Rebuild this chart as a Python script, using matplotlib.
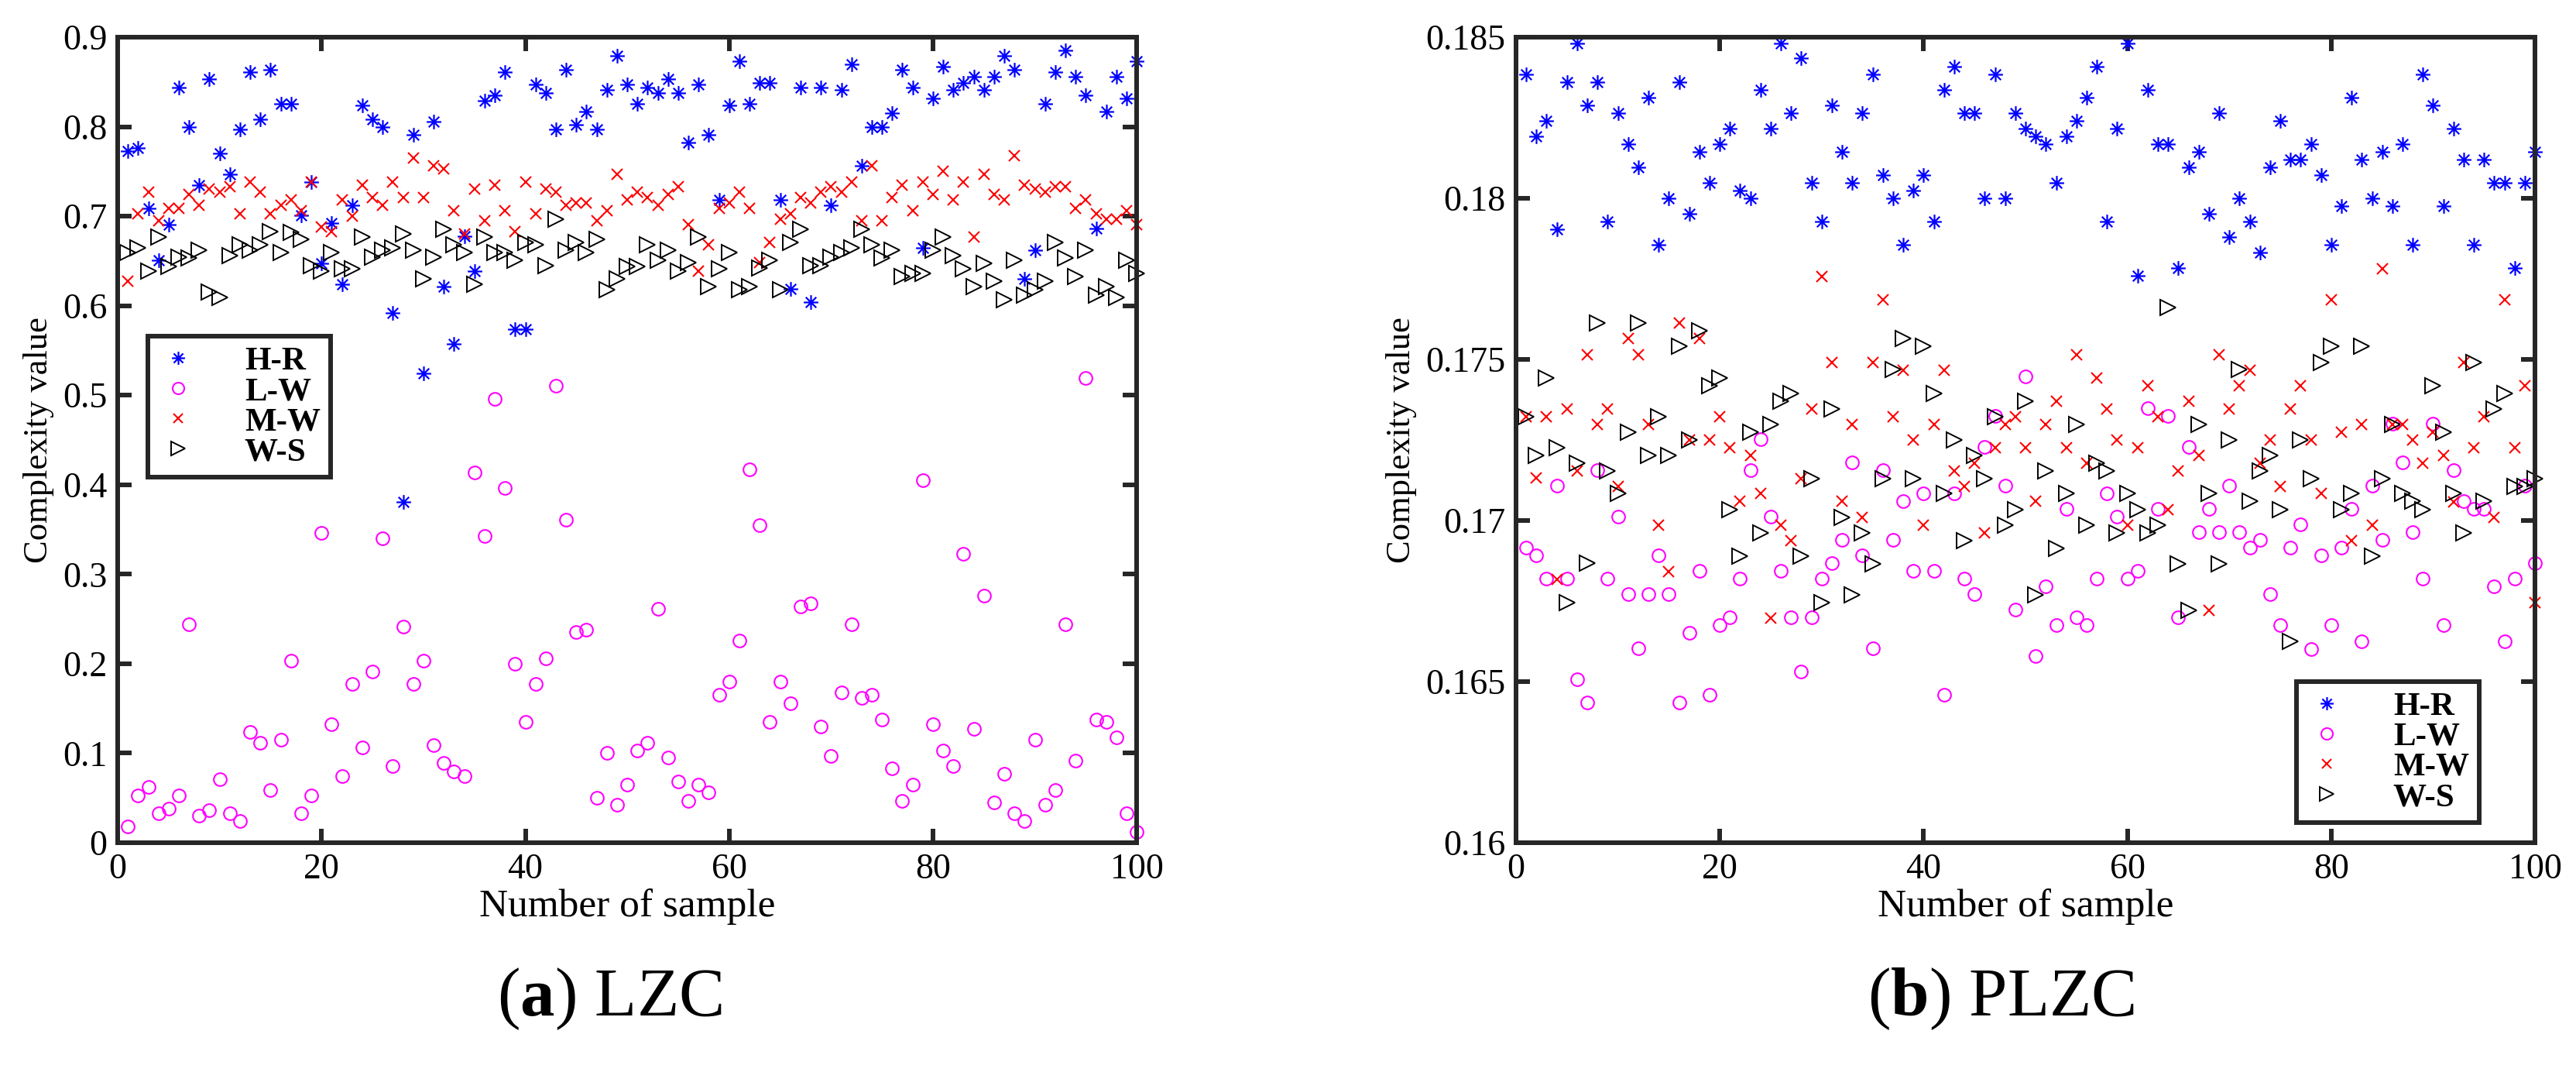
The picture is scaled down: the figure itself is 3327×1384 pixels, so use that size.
import numpy as np
import matplotlib
matplotlib.use("Agg")
from matplotlib import pyplot as plt
from matplotlib.path import Path

plt.rcParams['font.family'] = ['Liberation Serif', 'DejaVu Serif']
plt.rcParams['mathtext.fontset'] = 'custom'
plt.rcParams['mathtext.rm'] = 'Liberation Serif'
plt.rcParams['mathtext.bf'] = 'Liberation Serif:bold'

samples = np.arange(1, 101)
series_names = ['H-R', 'L-W', 'M-W', 'W-S']

# (a) LZC
lzc_hr = [0.773, 0.776, 0.709, 0.651, 0.691, 0.844, 0.800, 0.735, 0.853, 0.770,
          0.747, 0.797, 0.861, 0.808, 0.864, 0.826, 0.826, 0.701, 0.738, 0.647,
          0.692, 0.624, 0.712, 0.824, 0.808, 0.800, 0.592, 0.381, 0.791, 0.524,
          0.806, 0.621, 0.557, 0.678, 0.639, 0.829, 0.835, 0.861, 0.574, 0.574,
          0.847, 0.838, 0.797, 0.864, 0.802, 0.817, 0.797, 0.841, 0.879, 0.847,
          0.826, 0.844, 0.838, 0.853, 0.838, 0.782, 0.847, 0.791, 0.718, 0.824,
          0.873, 0.826, 0.849, 0.849, 0.718, 0.619, 0.844, 0.604, 0.844, 0.712,
          0.841, 0.870, 0.756, 0.800, 0.800, 0.815, 0.864, 0.844, 0.665, 0.832,
          0.867, 0.841, 0.849, 0.856, 0.841, 0.856, 0.879, 0.864, 0.630, 0.662,
          0.826, 0.861, 0.885, 0.856, 0.835, 0.686, 0.817, 0.856, 0.832, 0.873]
lzc_lw = [0.018, 0.053, 0.062, 0.033, 0.038, 0.053, 0.244, 0.030, 0.036, 0.071,
          0.033, 0.024, 0.124, 0.112, 0.059, 0.115, 0.203, 0.033, 0.053, 0.346,
          0.132, 0.074, 0.177, 0.106, 0.191, 0.340, 0.086, 0.241, 0.177, 0.203,
          0.109, 0.089, 0.080, 0.074, 0.414, 0.343, 0.496, 0.396, 0.200, 0.135,
          0.177, 0.206, 0.511, 0.361, 0.235, 0.238, 0.050, 0.100, 0.042, 0.065,
          0.103, 0.112, 0.261, 0.095, 0.068, 0.047, 0.065, 0.056, 0.165, 0.180,
          0.226, 0.417, 0.355, 0.135, 0.180, 0.156, 0.264, 0.267, 0.130, 0.097,
          0.168, 0.244, 0.162, 0.165, 0.138, 0.083, 0.047, 0.065, 0.405, 0.132,
          0.103, 0.086, 0.323, 0.127, 0.276, 0.045, 0.077, 0.033, 0.024, 0.115,
          0.042, 0.059, 0.244, 0.092, 0.519, 0.138, 0.135, 0.118, 0.033, 0.012]
lzc_mw = [0.627, 0.703, 0.727, 0.695, 0.709, 0.709, 0.724, 0.712, 0.730, 0.727,
          0.733, 0.703, 0.738, 0.727, 0.703, 0.712, 0.718, 0.706, 0.738, 0.688,
          0.683, 0.718, 0.700, 0.735, 0.721, 0.712, 0.738, 0.721, 0.765, 0.721,
          0.756, 0.753, 0.706, 0.680, 0.730, 0.695, 0.735, 0.706, 0.683, 0.738,
          0.703, 0.730, 0.727, 0.712, 0.715, 0.715, 0.695, 0.706, 0.747, 0.718,
          0.727, 0.721, 0.712, 0.724, 0.733, 0.691, 0.639, 0.668, 0.709, 0.715,
          0.727, 0.709, 0.648, 0.671, 0.697, 0.703, 0.721, 0.715, 0.727, 0.733,
          0.727, 0.738, 0.695, 0.756, 0.695, 0.721, 0.735, 0.706, 0.738, 0.724,
          0.750, 0.718, 0.738, 0.677, 0.747, 0.724, 0.718, 0.768, 0.735, 0.730,
          0.727, 0.733, 0.733, 0.709, 0.718, 0.703, 0.697, 0.697, 0.706, 0.691]
lzc_ws = [0.659, 0.665, 0.639, 0.677, 0.644, 0.654, 0.653, 0.662, 0.615, 0.609,
          0.656, 0.668, 0.662, 0.668, 0.683, 0.659, 0.682, 0.674, 0.645, 0.639,
          0.659, 0.641, 0.641, 0.677, 0.654, 0.662, 0.665, 0.680, 0.662, 0.630,
          0.654, 0.685, 0.668, 0.659, 0.624, 0.677, 0.659, 0.659, 0.651, 0.671,
          0.668, 0.645, 0.697, 0.662, 0.671, 0.659, 0.674, 0.618, 0.630, 0.644,
          0.644, 0.668, 0.651, 0.662, 0.639, 0.648, 0.677, 0.621, 0.641, 0.659,
          0.618, 0.621, 0.642, 0.651, 0.618, 0.671, 0.685, 0.645, 0.645, 0.654,
          0.659, 0.665, 0.685, 0.668, 0.653, 0.662, 0.633, 0.636, 0.636, 0.662,
          0.677, 0.656, 0.641, 0.621, 0.647, 0.627, 0.607, 0.651, 0.612, 0.618,
          0.627, 0.671, 0.653, 0.633, 0.662, 0.612, 0.621, 0.609, 0.651, 0.636]

# (b) PLZC
plzc_hr = [0.18385, 0.18193, 0.18241, 0.17903, 0.18361, 0.18482, 0.18289, 0.18361, 0.17927, 0.18265,
           0.18169, 0.18097, 0.18313, 0.17855, 0.18000, 0.18361, 0.17951, 0.18145, 0.18049, 0.18169,
           0.18217, 0.18025, 0.18000, 0.18337, 0.18217, 0.18482, 0.18265, 0.18434, 0.18049, 0.17927,
           0.18289, 0.18145, 0.18049, 0.18265, 0.18385, 0.18073, 0.18000, 0.17855, 0.18025, 0.18073,
           0.17927, 0.18337, 0.18409, 0.18265, 0.18265, 0.18000, 0.18385, 0.18000, 0.18265, 0.18217,
           0.18193, 0.18169, 0.18049, 0.18193, 0.18241, 0.18313, 0.18409, 0.17927, 0.18217, 0.18482,
           0.17759, 0.18337, 0.18169, 0.18169, 0.17783, 0.18097, 0.18145, 0.17951, 0.18265, 0.17879,
           0.18000, 0.17927, 0.17831, 0.18097, 0.18241, 0.18121, 0.18121, 0.18169, 0.18073, 0.17855,
           0.17977, 0.18313, 0.18121, 0.18000, 0.18145, 0.17977, 0.18169, 0.17855, 0.18385, 0.18289,
           0.17977, 0.18217, 0.18121, 0.17855, 0.18121, 0.18049, 0.18049, 0.17783, 0.18049, 0.18145]
plzc_lw = [0.16916, 0.16892, 0.16820, 0.17108, 0.16820, 0.16507, 0.16434, 0.17156, 0.16820, 0.17011,
           0.16771, 0.16603, 0.16771, 0.16892, 0.16771, 0.16434, 0.16652, 0.16844, 0.16459, 0.16676,
           0.16700, 0.16820, 0.17156, 0.17253, 0.17011, 0.16844, 0.16700, 0.16531, 0.16700, 0.16820,
           0.16868, 0.16940, 0.17180, 0.16892, 0.16603, 0.17156, 0.16940, 0.17060, 0.16844, 0.17084,
           0.16844, 0.16459, 0.17084, 0.16820, 0.16771, 0.17229, 0.17325, 0.17108, 0.16723, 0.17446,
           0.16579, 0.16795, 0.16675, 0.17036, 0.16700, 0.16675, 0.16820, 0.17084, 0.17011, 0.16820,
           0.16844, 0.17349, 0.17036, 0.17325, 0.16700, 0.17229, 0.16964, 0.17036, 0.16964, 0.17108,
           0.16964, 0.16916, 0.16940, 0.16771, 0.16675, 0.16916, 0.16989, 0.16602, 0.16892, 0.16675,
           0.16916, 0.17036, 0.16626, 0.17108, 0.16940, 0.17301, 0.17180, 0.16964, 0.16820, 0.17301,
           0.16675, 0.17156, 0.17060, 0.17036, 0.17036, 0.16795, 0.16626, 0.16820, 0.17108, 0.16868]
plzc_mw = [0.17323, 0.17131, 0.17323, 0.16818, 0.17347, 0.17154, 0.17515, 0.17299, 0.17347, 0.17106,
           0.17564, 0.17515, 0.17299, 0.16986, 0.16841, 0.17613, 0.17251, 0.17564, 0.17251, 0.17323,
           0.17226, 0.17059, 0.17202, 0.17083, 0.16698, 0.16986, 0.16938, 0.17130, 0.17347, 0.17757,
           0.17491, 0.17059, 0.17299, 0.17009, 0.17491, 0.17685, 0.17323, 0.17467, 0.17251, 0.16986,
           0.17299, 0.17467, 0.17154, 0.17106, 0.17179, 0.16961, 0.17226, 0.17299, 0.17323, 0.17226,
           0.17059, 0.17299, 0.17371, 0.17226, 0.17515, 0.17179, 0.17443, 0.17347, 0.17251, 0.16986,
           0.17226, 0.17418, 0.17323, 0.17034, 0.17154, 0.17371, 0.17202, 0.16721, 0.17515, 0.17347,
           0.17418, 0.17467, 0.17179, 0.17251, 0.17106, 0.17347, 0.17418, 0.17251, 0.17083, 0.17685,
           0.17275, 0.16938, 0.17299, 0.16986, 0.17782, 0.17299, 0.17299, 0.17251, 0.17179, 0.17275,
           0.17202, 0.17057, 0.17491, 0.17226, 0.17323, 0.17009, 0.17685, 0.17226, 0.17418, 0.16745]
plzc_ws = [0.17323, 0.17202, 0.17443, 0.17226, 0.16745, 0.17179, 0.16867, 0.17613, 0.17154, 0.17083,
           0.17275, 0.17613, 0.17202, 0.17323, 0.17202, 0.17540, 0.17251, 0.17589, 0.17418, 0.17443,
           0.17034, 0.16890, 0.17275, 0.16961, 0.17299, 0.17371, 0.17395, 0.16890, 0.17130, 0.16745,
           0.17347, 0.17009, 0.16769, 0.16961, 0.16866, 0.17130, 0.17468, 0.17564, 0.17130, 0.17540,
           0.17395, 0.17083, 0.17251, 0.16938, 0.17202, 0.17130, 0.17323, 0.16986, 0.17034, 0.17371,
           0.16769, 0.17154, 0.16914, 0.17083, 0.17299, 0.16986, 0.17179, 0.17154, 0.16961, 0.17083,
           0.17034, 0.16961, 0.16986, 0.17661, 0.16866, 0.16721, 0.17299, 0.17083, 0.16866, 0.17251,
           0.17468, 0.17059, 0.17154, 0.17202, 0.17034, 0.16625, 0.17251, 0.17130, 0.17491, 0.17540,
           0.17034, 0.17083, 0.17540, 0.16890, 0.17130, 0.17299, 0.17083, 0.17059, 0.17034, 0.17418,
           0.17275, 0.17083, 0.16961, 0.17491, 0.17059, 0.17347, 0.17395, 0.17106, 0.17106, 0.17130]

lzc_yticks = [0, 0.1, 0.2, 0.3, 0.4, 0.5, 0.6, 0.7, 0.8, 0.9]
lzc_ylabels = ['0', '0.1', '0.2', '0.3', '0.4', '0.5', '0.6', '0.7', '0.8', '0.9']
plzc_yticks = [0.16, 0.165, 0.17, 0.175, 0.18, 0.185]
plzc_ylabels = ['0.16', '0.165', '0.17', '0.175', '0.18', '0.185']
xticks = [0, 20, 40, 60, 80, 100]

# MATLAB style asterisk (8 arms)
d = 0.72
asterisk = Path([(-1, 0), (1, 0), (0, -1), (0, 1), (-d, -d), (d, d), (-d, d), (d, -d)],
                [Path.MOVETO, Path.LINETO] * 4)

styles = [
    dict(marker=asterisk, color='#0000ff', ms=13.5, mew=1.6),
    dict(marker='o', color='#ff00ff', ms=12, mew=1.5),
    dict(marker='x', color='#ff0000', ms=9.5, mew=1.5),
    dict(marker='>', color='#000000', ms=14, mew=1.4),
]

fig = plt.figure(figsize=(33.27, 13.84), dpi=100)
ax1 = fig.add_axes([0.0457, 0.2139, 0.3956, 0.7514])
ax2 = fig.add_axes([0.5885, 0.2139, 0.3956, 0.7514])

spine_col = '#262626'


def draw(ax, data, yticks, ylabels, ylim, legend_loc, legend_anchor):
    for vals, name, st in zip(data, series_names, styles):
        ax.plot(samples, vals, linestyle='none', marker=st['marker'], markersize=st['ms'],
                markeredgewidth=st['mew'], markeredgecolor=st['color'],
                markerfacecolor='none', label=name, clip_on=False)
    ax.set_xlim(0, 100)
    ax.set_ylim(*ylim)
    ax.set_xticks(xticks)
    ax.set_yticks(yticks)
    ax.set_yticklabels(ylabels)
    for sp in ax.spines.values():
        sp.set_linewidth(4.3)
        sp.set_color(spine_col)
    ax.tick_params(direction='in', length=13, width=4.3, color=spine_col,
                   top=True, right=True, labelsize=33, pad=10)
    ax.set_xlabel('Number of sample', fontsize=37, labelpad=2)
    ax.set_ylabel('Complexity value', fontsize=32, labelpad=8)
    leg = ax.legend(loc=legend_loc, bbox_to_anchor=legend_anchor, borderaxespad=0,
                    prop={'weight': 'bold', 'size': 31}, fancybox=False,
                    handlelength=1.2, handletextpad=1.4, labelspacing=0.0,
                    borderpad=0.3, markerscale=0.9)
    leg.get_frame().set_linewidth(4.3)
    leg.get_frame().set_edgecolor(spine_col)
    leg.get_frame().set_alpha(1)


draw(ax1, [lzc_hr, lzc_lw, lzc_mw, lzc_ws], lzc_yticks, lzc_ylabels, (0, 0.9),
     'upper left', (0.0296, 0.629))
draw(ax2, [plzc_hr, plzc_lw, plzc_mw, plzc_ws], plzc_yticks, plzc_ylabels, (0.16, 0.185),
     'lower right', (0.945, 0.025))

fig.text(0.2366, 0.068, r'($\mathbf{a}$) LZC', ha='center', va='center', fontsize=64)
fig.text(0.7768, 0.068, r'($\mathbf{b}$) PLZC', ha='center', va='center', fontsize=64)

fig.savefig('out.png', dpi=100)
